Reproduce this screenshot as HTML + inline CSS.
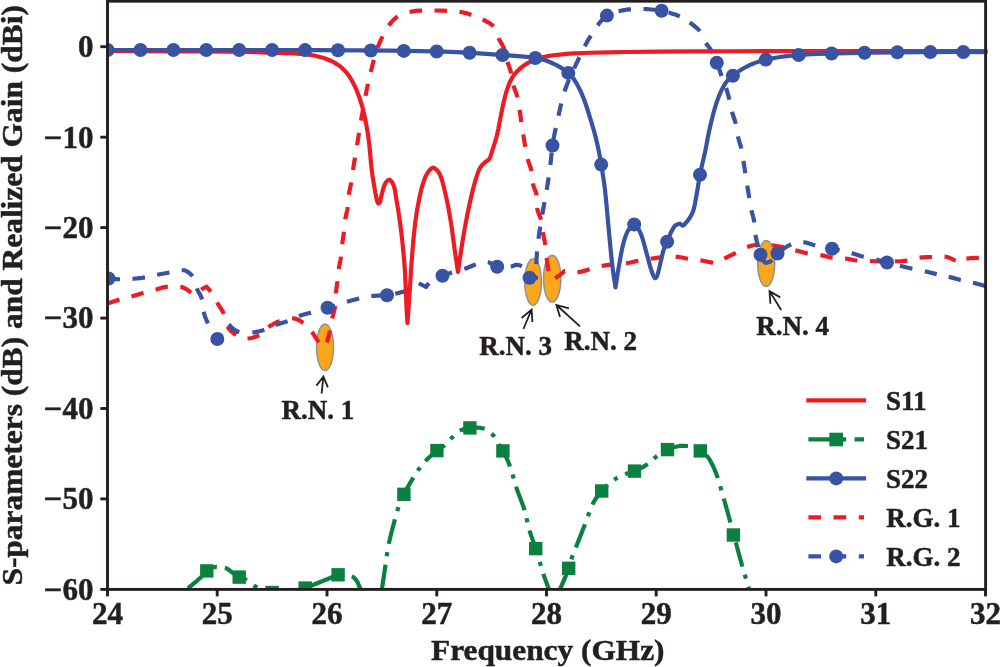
<!DOCTYPE html>
<html lang="en"><head><meta charset="utf-8"><title>S-parameters and Realized Gain</title>
<style>html,body{margin:0;padding:0;background:#fff;}body{width:1000px;height:667px;overflow:hidden;}svg{display:block;}</style>
</head><body>
<svg width="1000" height="667" viewBox="0 0 1000 667">
<rect width="1000" height="667" fill="#fff"/>
<defs><clipPath id="pc"><rect x="107.5" y="1.2" width="880.2" height="587.6"/></clipPath></defs>
<ellipse cx="325.05" cy="347.2" rx="8.5" ry="23.3" fill="#f9a61a" stroke="#8e9297" stroke-width="1.5"/>
<ellipse cx="533.1" cy="282.1" rx="8.3" ry="23.3" fill="#f9a61a" stroke="#8e9297" stroke-width="1.5"/>
<ellipse cx="552.2" cy="278.6" rx="8.7" ry="23.4" fill="#f9a61a" stroke="#8e9297" stroke-width="1.5"/>
<g clip-path="url(#pc)" fill="none" stroke-linejoin="round">
<path d="M107.50,303.60 L113.65,301.43 L119.87,299.49 L131.03,296.63 L133.92,295.79 L143.01,292.94 L147.36,291.77 L156.12,289.59 L161.93,287.78 L163.39,287.38 L164.85,287.06 L166.32,286.86 L167.31,286.80 L180.33,286.75 L181.29,286.87 L182.25,287.14 L183.20,287.54 L186.37,289.20 L187.62,290.03 L190.04,291.88 L191.31,292.66 L192.66,293.26 L194.06,293.80 L196.50,294.50 L197.49,293.28 L198.53,292.14 L199.64,291.07 L200.79,290.10 L202.42,288.93 L203.72,288.13 L205.08,287.40 L206.50,286.75 L208.23,288.58 L209.54,290.10 L210.76,291.67 L211.61,292.89 L213.15,295.44 L216.02,300.76 L217.26,302.93 L221.13,308.86 L222.65,311.43 L223.71,313.65 L224.37,315.53 L224.91,317.50 L226.09,322.52 L226.65,324.42 L227.34,326.18 L228.00,327.40 L228.83,328.58 L229.81,329.74 L230.89,330.85 L232.05,331.91 L233.68,333.24 L235.31,334.44 L237.38,335.83 L238.71,336.59 L239.63,337.03 L240.56,337.37 L242.46,337.85 L244.96,338.33 L246.96,338.50 L248.44,338.46 L250.45,338.21 L252.47,337.78 L254.95,337.05 L258.64,335.65 L259.48,335.27 L260.29,334.79 L261.06,334.23 L262.17,333.24 L265.73,329.45 L266.84,328.37 L267.61,327.72 L269.23,326.59 L271.77,324.97 L273.98,323.70 L275.78,322.78 L277.61,321.96 L279.46,321.26 L283.77,319.85 L286.75,319.01 L288.73,318.59 L290.68,318.32 L292.12,318.25 L293.55,318.34 L294.99,318.64 L296.44,319.10 L297.88,319.71 L299.30,320.41 L301.57,321.74 L304.07,323.38 L305.21,324.22 L306.30,325.19 L307.35,326.27 L308.69,327.82 L312.13,332.25 L313.56,334.29 L316.78,339.38 L318.19,341.45 L320.35,344.19 L323.00,347.20 L325.08,344.90 L326.22,343.27 L326.67,342.43 L327.04,341.55 L327.84,339.24 L328.61,336.31 L330.03,329.87 L332.27,318.06 L334.21,310.77 L334.74,308.34 L334.96,306.86 L335.18,304.39 L335.64,295.87 L335.92,292.38 L337.40,281.47 L338.62,270.02 L339.06,267.05 L340.53,259.68 L341.00,256.72 L341.33,253.74 L342.20,244.26 L343.93,232.37 L344.87,222.40 L345.28,218.93 L345.75,216.47 L347.25,210.12 L347.69,207.66 L348.05,204.19 L348.60,196.68 L349.02,193.22 L349.48,190.76 L350.69,185.38 L351.17,182.92 L351.70,179.46 L352.92,170.53 L354.48,160.64 L361.48,118.16 L363.03,109.29 L364.85,99.44 L366.86,89.12 L369.11,78.86 L372.31,65.73 L374.65,57.01 L376.70,50.33 L377.68,47.50 L378.56,45.17 L380.76,40.11 L383.85,33.81 L385.98,29.79 L387.01,28.07 L388.09,26.41 L389.25,24.83 L390.83,22.85 L393.25,20.16 L394.35,19.09 L395.49,18.10 L396.66,17.21 L397.86,16.44 L399.54,15.50 L401.34,14.62 L403.22,13.81 L404.67,13.27 L407.60,12.38 L411.48,11.60 L415.95,10.91 L419.96,10.54 L436.47,10.51 L441.47,10.62 L448.47,10.87 L453.48,11.16 L458.46,11.61 L460.91,11.94 L463.35,12.45 L465.78,13.11 L468.19,13.86 L472.95,15.42 L475.78,16.44 L478.12,17.37 L480.42,18.38 L485.88,21.07 L489.12,22.86 L490.40,23.70 L491.58,24.59 L492.61,25.53 L493.21,26.20 L493.98,27.29 L494.66,28.52 L495.65,30.80 L497.44,35.73 L498.43,38.10 L499.59,40.32 L502.17,44.67 L503.14,46.42 L504.00,48.21 L504.68,50.05 L505.49,52.90 L506.94,59.29 L507.56,61.72 L508.29,64.11 L510.36,70.29 L511.17,73.17 L511.79,76.10 L512.97,83.02 L513.61,85.94 L514.35,88.33 L516.61,94.46 L517.03,95.89 L517.38,97.33 L518.28,101.71 L519.04,106.13 L519.79,111.08 L522.01,127.00 L524.61,142.82 L525.74,149.24 L526.90,155.12 L528.12,160.46 L528.70,162.38 L530.58,167.59 L531.24,169.99 L531.50,171.45 L531.76,173.42 L532.52,181.43 L532.80,183.39 L533.00,184.36 L533.75,186.75 L535.82,191.95 L536.25,193.38 L536.46,194.34 L536.59,195.31 L536.76,197.78 L537.08,206.33 L537.23,208.30 L537.38,209.26 L537.72,210.70 L538.19,212.13 L540.40,217.81 L540.83,219.25 L541.04,220.22 L541.63,223.65 L542.82,232.09 L544.71,241.42 L545.21,244.37 L545.63,247.84 L546.55,257.31 L547.24,262.78 L547.91,267.23 L548.46,270.17 L549.15,273.08 L550.11,276.45 L551.20,279.80 L553.12,279.02 L554.51,278.36 L556.28,277.37 L558.01,276.29 L559.69,275.12 L561.32,273.85 L562.90,272.48 L564.40,271.00 L568.88,271.50 L575.38,272.05 L577.86,272.09 L579.82,271.90 L581.29,271.62 L583.24,271.13 L588.10,269.68 L591.49,268.76 L598.71,266.65 L600.65,266.18 L603.58,265.61 L608.53,264.81 L613.01,264.25 L616.00,263.99 L623.50,263.50 L626.97,263.15 L630.41,262.53 L637.74,260.84 L642.67,259.96 L649.59,258.88 L656.54,257.91 L660.52,257.46 L665.01,257.15 L671.52,256.86 L675.51,256.80 L678.00,256.94 L680.47,257.29 L687.88,258.69 L697.82,259.90 L701.28,260.41 L704.23,260.96 L712.08,262.59 L718.00,263.60 L719.92,261.96 L721.89,260.41 L723.51,259.26 L725.19,258.21 L728.25,256.54 L736.36,252.56 L741.61,249.50 L743.82,248.31 L746.08,247.34 L750.84,245.90 L753.81,245.21 L755.30,244.97 L756.79,244.83 L761.27,244.85 L766.78,245.07 L771.77,245.38 L775.25,245.80 L782.64,247.12 L787.04,248.07 L796.26,250.40 L804.45,252.77 L807.36,253.42 L810.32,253.86 L817.79,254.66 L820.76,255.09 L823.20,255.62 L828.55,257.04 L831.48,257.61 L834.95,257.92 L842.46,258.31 L845.44,258.54 L847.92,258.90 L854.81,260.22 L856.79,260.46 L858.78,260.59 L870.28,261.01 L878.28,261.42 L881.28,261.50 L890.78,261.39 L901.80,261.06 L907.27,260.72 L909.23,260.44 L911.16,259.94 L916.46,258.22 L917.92,257.88 L918.90,257.73 L922.36,257.45 L926.86,257.21 L938.92,256.71 L944.37,256.60 L945.82,256.73 L947.72,257.20 L949.60,257.91 L953.82,259.82 L955.23,260.40 L957.14,261.02 L960.50,262.00 L962.63,260.36 L963.94,259.50 L965.30,258.88 L966.22,258.63 L970.13,258.22 L977.89,257.81 L985.00,257.30" stroke="#ed1c24" stroke-width="4.2" stroke-dasharray="12.58,12.48,12.58,12.48,12.60,12.50,12.45,12.35,12.63,12.53,13.33,13.22,12.14,12.04,12.38,12.28,12.86,12.76,12.42,12.32,12.59,12.49,12.32,12.22,12.82,12.72,12.31,12.22,12.57,12.47,12.56,12.47,12.57,12.47,12.57,12.47,12.56,12.46,12.56,12.46,12.56,12.46,12.31,12.21,12.56,12.46,12.57,12.47,12.87,12.77,12.57,12.47,12.56,12.46,12.32,12.23,12.87,12.77,12.82,12.72,12.31,12.21,12.56,12.46,12.56,12.46,12.56,12.46,12.56,12.46,12.58,12.48,12.58,12.48,13.06,12.96,13.37,13.27,12.49,12.39,12.59,12.49,12.31,12.22,12.57,12.47,12.57,12.47,12.57,12.47,13.07,12.96,12.82,12.72,12.32,12.22,12.32,12.22,12.81,12.71,12.56,12.46,12.56,12.46,12.55,12.45,12.57,12.47,12.55,12.45,11.95,11.85,12.60,12.50,12.60,12.50" stroke-dashoffset="0.00"/>
</g>
<ellipse cx="766.2" cy="263.6" rx="8.5" ry="23.0" fill="#f9a61a" stroke="#8e9297" stroke-width="1.5"/>
<g clip-path="url(#pc)" fill="none" stroke-linejoin="round">
<path d="M107.50,278.50 L113.99,279.07 L116.99,279.21 L119.99,279.25 L123.49,279.19 L127.99,279.02 L133.48,278.73 L136.98,278.44 L141.96,277.87 L146.40,277.22 L148.84,276.70 L156.64,274.82 L169.93,272.38 L175.82,271.02 L178.28,270.55 L180.75,270.28 L184.75,270.25 L186.22,271.02 L187.62,271.85 L188.93,272.75 L190.14,273.72 L190.88,274.39 L191.87,275.44 L192.45,276.17 L192.95,276.92 L193.59,278.12 L194.44,280.40 L195.97,285.92 L196.79,288.34 L197.85,290.63 L200.54,295.57 L201.17,296.93 L201.69,298.32 L202.05,299.73 L202.38,301.68 L203.17,308.73 L203.54,311.21 L204.25,314.11 L205.39,317.46 L206.56,320.27 L208.20,323.94 L209.28,326.18 L210.68,328.83 L212.18,331.44 L213.79,334.01 L215.50,336.53 L217.30,339.00 L228.50,324.00 L229.90,325.69 L231.39,327.24 L232.95,328.62 L234.17,329.53 L235.85,330.56 L237.14,331.18 L238.46,331.66 L240.79,332.29 L242.79,332.70 L244.32,332.91 L245.84,333.00 L247.83,332.94 L250.34,332.73 L253.82,332.33 L256.29,331.92 L259.25,331.27 L263.13,330.25 L265.49,329.51 L267.81,328.58 L273.29,326.02 L275.60,325.06 L278.44,324.08 L285.15,322.00 L287.98,321.01 L290.74,319.81 L296.62,316.96 L298.46,316.20 L299.87,315.71 L302.73,314.84 L310.50,312.78 L315.80,311.25 L328.76,307.37 L343.11,302.88 L352.27,300.31 L365.42,297.01 L368.86,296.30 L370.83,296.04 L373.31,295.86 L383.85,295.45 L387.83,295.17 L389.82,294.89 L391.79,294.51 L399.14,292.83 L402.56,291.89 L405.43,290.97 L408.19,289.92 L409.97,289.11 L412.16,287.93 L414.29,286.60 L416.37,285.14 L418.80,283.25 L426.00,287.00 L427.18,285.31 L428.13,284.11 L429.15,283.04 L430.24,282.11 L431.81,280.98 L433.95,279.68 L436.21,278.50 L438.54,277.41 L443.21,275.47 L446.52,274.30 L453.24,272.22 L461.45,269.89 L464.78,268.82 L467.58,267.74 L474.07,265.03 L478.31,263.41 L480.23,262.83 L482.20,262.57 L485.24,262.32 L487.70,262.25 L488.64,262.39 L489.56,262.70 L490.46,263.13 L494.48,265.69 L495.84,266.37 L496.78,266.66 L497.25,266.75 L501.73,267.22 L503.75,267.30 L505.25,267.28 L509.27,266.94 L510.74,266.75 L511.71,266.53 L514.58,265.32 L515.99,264.87 L516.47,264.81 L517.43,264.84 L518.97,265.12 L521.00,265.84 L522.81,266.75 L524.20,267.74 L525.17,268.64 L525.78,269.34 L526.66,270.50 L527.20,271.36 L528.16,273.26 L528.94,275.38 L529.50,277.70 L536.00,278.20 L536.21,267.19 L536.57,258.22 L537.22,249.77 L538.26,240.34 L539.42,231.92 L540.90,222.52 L542.43,213.62 L546.67,189.89 L548.84,176.53 L550.33,165.62 L551.98,149.68 L552.47,145.72 L552.98,142.26 L553.94,136.84 L555.24,130.46 L559.89,109.42 L561.47,102.58 L562.97,96.77 L564.35,91.98 L565.61,88.21 L567.04,84.47 L568.79,80.31 L572.42,72.05 L575.12,66.13 L583.61,48.55 L585.41,44.97 L587.06,41.89 L588.55,39.29 L590.38,36.29 L594.11,30.35 L595.78,27.84 L597.24,25.83 L600.39,21.81 L602.06,19.83 L603.46,18.34 L604.91,17.00 L606.05,16.11 L607.24,15.36 L608.93,14.47 L610.75,13.64 L613.14,12.73 L615.59,11.94 L618.04,11.31 L623.91,10.10 L626.40,9.70 L628.89,9.42 L630.89,9.29 L636.38,9.10 L643.89,9.00 L646.39,9.08 L648.89,9.26 L656.86,10.10 L661.31,10.77 L665.22,11.62 L672.47,13.65 L675.34,14.58 L677.69,15.45 L679.96,16.41 L681.73,17.29 L683.47,18.29 L685.61,19.64 L691.35,23.70 L695.02,26.49 L696.56,27.81 L697.66,28.84 L698.68,29.91 L699.60,31.01 L700.69,32.58 L701.65,34.30 L704.44,40.30 L705.62,42.53 L707.26,45.03 L710.28,49.07 L711.42,50.71 L712.45,52.41 L713.80,55.06 L715.42,58.74 L717.44,63.87 L721.49,75.71 L724.89,84.59 L726.20,88.37 L727.79,93.64 L729.21,98.96 L729.89,101.88 L731.40,109.24 L732.11,112.15 L732.82,114.55 L734.92,120.72 L735.60,123.12 L736.31,126.54 L737.42,133.47 L738.09,136.90 L738.71,139.32 L740.83,146.54 L741.30,148.48 L741.96,151.91 L744.10,165.26 L746.91,183.56 L750.04,202.83 L751.65,211.17 L753.60,218.44 L754.20,221.37 L754.61,224.83 L755.33,233.33 L755.66,235.80 L756.11,238.25 L756.78,241.18 L758.26,247.01 L759.33,250.87 L760.50,254.70 L760.69,255.80 L760.99,256.83 L761.58,258.25 L762.56,259.91 L763.43,261.01 L764.63,262.13 L765.54,262.65 L765.99,262.78 L766.90,262.74 L768.37,262.27 L769.78,261.61 L770.58,261.15 L771.33,260.58 L772.38,259.57 L773.37,258.40 L776.27,254.72 L776.97,253.99 L778.08,253.00 L781.19,250.47 L784.06,248.36 L786.61,246.72 L789.22,245.28 L792.87,243.67 L794.31,243.17 L795.28,242.92 L797.73,242.59 L800.24,242.35 L802.74,242.25 L804.21,242.31 L805.67,242.52 L807.61,242.99 L812.93,244.69 L814.87,245.22 L819.27,246.16 L831.54,248.60 L840.83,250.60 L847.17,252.05 L852.98,253.54 L860.62,255.92 L863.51,256.74 L866.42,257.43 L876.20,259.55 L887.30,262.58 L899.41,265.66 L911.09,268.43 L924.80,271.26 L936.96,274.19 L948.20,276.62 L951.11,277.36 L957.84,279.31 L960.74,280.09 L963.66,280.76 L973.45,282.81 L983.61,285.46 L987.50,286.40" stroke="#3953a4" stroke-width="4.2" stroke-dasharray="12.56,12.46,12.56,12.46,12.57,12.47,12.94,12.84,12.38,12.28,12.55,12.45,12.55,12.45,13.17,13.07,12.34,12.24,12.58,12.48,12.58,12.48,12.58,12.48,12.58,12.48,12.08,11.98,13.11,13.01,12.91,12.81,12.85,12.75,12.34,12.24,12.16,12.06,11.68,11.58,11.68,11.58,12.77,12.67,12.32,12.22,12.60,12.50,12.58,12.48,12.56,12.46,12.56,12.46,12.56,12.46,12.56,12.46,12.31,12.22,12.31,12.21,13.12,13.02,12.57,12.47,12.82,12.71,11.82,11.73,13.35,13.24,12.06,11.97,12.81,12.71,12.31,12.21,12.81,12.71,12.56,12.46,12.56,12.46,12.56,12.46,12.56,12.46,12.53,12.43,12.53,12.43,12.53,12.43,12.44,12.34,12.44,12.34,12.80,12.70,12.30,12.20,12.80,12.70,12.30,12.20,12.55,12.45,12.60,12.50,12.60,12.50" stroke-dashoffset="0.00"/>
<circle cx="108.5" cy="278.5" r="7" fill="#3953a4" stroke="none"/>
<circle cx="217.3" cy="339.0" r="7" fill="#3953a4" stroke="none"/>
<circle cx="327.5" cy="307.8" r="7" fill="#3953a4" stroke="none"/>
<circle cx="387.0" cy="295.2" r="7" fill="#3953a4" stroke="none"/>
<circle cx="442.5" cy="275.8" r="7" fill="#3953a4" stroke="none"/>
<circle cx="497.2" cy="266.8" r="7" fill="#3953a4" stroke="none"/>
<circle cx="529.5" cy="277.7" r="7" fill="#3953a4" stroke="none"/>
<circle cx="552.5" cy="145.5" r="7" fill="#3953a4" stroke="none"/>
<circle cx="606.9" cy="15.6" r="7" fill="#3953a4" stroke="none"/>
<circle cx="661.6" cy="10.7" r="7" fill="#3953a4" stroke="none"/>
<circle cx="716.8" cy="62.7" r="7" fill="#3953a4" stroke="none"/>
<circle cx="760.5" cy="254.7" r="7" fill="#3953a4" stroke="none"/>
<circle cx="777.5" cy="253.5" r="7" fill="#3953a4" stroke="none"/>
<circle cx="832.0" cy="248.7" r="7" fill="#3953a4" stroke="none"/>
<circle cx="887.0" cy="262.5" r="7" fill="#3953a4" stroke="none"/>
<path d="M107.50,50.90 L148.02,51.09 L201.05,51.45 L227.06,51.69 L248.57,51.98 L257.57,52.17 L268.07,52.53 L293.59,53.52 L303.07,54.05 L306.04,54.29 L308.52,54.59 L311.00,54.98 L313.97,55.56 L316.93,56.24 L319.85,57.00 L323.68,58.10 L326.50,59.00 L328.37,59.71 L330.69,60.73 L332.97,61.86 L335.18,63.08 L337.29,64.36 L338.91,65.47 L340.49,66.71 L342.02,68.04 L343.49,69.44 L345.22,71.23 L346.53,72.74 L348.09,74.72 L349.26,76.36 L350.59,78.45 L352.10,81.03 L353.52,83.69 L354.87,86.40 L356.12,89.15 L357.27,91.91 L358.34,94.70 L359.69,98.46 L360.79,101.80 L361.82,105.16 L362.76,108.55 L363.96,113.39 L365.44,120.23 L366.67,126.62 L367.68,132.56 L368.55,138.50 L369.22,143.95 L369.78,149.42 L371.18,164.88 L371.73,169.85 L372.32,174.31 L373.62,182.72 L375.40,193.08 L376.83,199.99 L377.22,201.44 L377.57,202.33 L378.14,203.29 L378.50,203.58 L378.87,203.49 L379.26,203.10 L379.78,202.24 L380.12,201.37 L380.40,200.43 L381.27,196.38 L383.06,189.42 L383.62,187.47 L384.10,186.06 L384.84,184.29 L385.51,183.05 L386.50,181.65 L387.67,180.41 L388.45,179.89 L388.81,179.77 L389.16,179.76 L389.88,180.04 L390.26,180.30 L391.02,181.01 L392.10,182.40 L392.73,183.41 L393.24,184.39 L393.90,186.14 L394.42,187.97 L394.86,189.90 L395.31,192.41 L396.34,199.04 L398.16,209.90 L399.50,218.81 L400.69,227.73 L401.68,235.67 L402.45,242.63 L403.30,251.10 L404.34,262.56 L405.00,272.04 L405.45,281.03 L406.43,305.52 L406.84,313.02 L407.50,323.00 L409.40,295.54 L411.02,270.07 L411.94,257.60 L412.82,246.62 L413.62,237.64 L414.48,229.18 L415.35,221.73 L416.32,214.80 L417.49,207.88 L419.00,200.02 L420.57,192.65 L421.77,187.78 L423.02,183.47 L424.50,179.20 L425.90,175.90 L426.82,174.12 L427.58,172.87 L429.08,170.79 L430.19,169.47 L430.99,168.69 L431.79,168.10 L432.58,167.75 L432.97,167.70 L433.35,167.73 L434.17,168.00 L435.47,168.83 L436.73,169.98 L438.19,171.68 L439.19,173.24 L440.04,174.87 L440.79,176.63 L441.64,178.97 L442.39,181.42 L443.20,184.46 L446.03,196.38 L447.70,204.20 L449.35,213.07 L450.60,220.49 L451.77,227.90 L454.89,251.22 L458.00,272.00 L460.17,256.65 L462.62,240.84 L464.81,228.02 L467.32,214.76 L469.67,203.50 L472.49,191.31 L474.54,183.58 L476.53,176.79 L477.47,173.88 L478.34,171.53 L479.12,169.73 L479.99,168.01 L480.78,166.79 L482.39,164.84 L484.55,162.70 L485.34,162.07 L487.94,160.35 L488.66,159.72 L489.20,159.00 L489.66,158.21 L490.07,157.35 L490.63,155.96 L494.95,142.41 L496.07,138.57 L497.07,134.70 L498.45,128.36 L501.26,113.61 L503.64,102.33 L505.16,96.01 L506.39,91.71 L507.65,87.87 L509.09,84.07 L510.50,80.86 L511.39,79.11 L512.34,77.42 L514.02,74.96 L516.30,72.22 L519.13,69.35 L520.22,68.35 L521.75,67.08 L524.61,65.00 L528.01,62.91 L531.57,61.02 L533.87,60.03 L537.15,58.90 L540.51,57.88 L543.92,56.98 L546.87,56.34 L549.32,55.90 L557.72,54.79 L566.20,53.96 L574.20,53.44 L590.68,52.77 L608.18,52.28 L624.18,52.01 L660.18,51.66 L695.68,51.42 L735.19,51.25 L837.69,51.01 L987.70,51.00" stroke="#ed1c24" stroke-width="4.2"/>
<path d="M150.00,624.00 L156.07,618.00 L162.58,611.73 L169.51,605.18 L176.50,598.71 L188.78,587.61 L197.29,580.53 L200.66,577.54 L203.48,574.71 L206.75,570.90 L215.50,566.80 L218.65,566.92 L221.65,567.24 L224.96,567.79 L226.30,568.25 L227.16,568.69 L228.01,569.23 L232.14,572.41 L236.70,575.59 L238.39,576.66 L239.26,577.13 L240.62,577.73 L245.37,579.47 L246.70,580.11 L247.55,580.61 L249.17,581.76 L252.70,584.65 L254.32,585.86 L257.73,588.00 L259.94,589.29 L262.20,590.38 L264.05,591.01 L267.94,592.00 L269.44,592.28 L270.95,592.46 L273.43,592.49 L276.93,592.34 L280.43,592.07 L284.44,591.65 L290.43,590.95 L293.40,590.53 L297.35,589.83 L301.28,589.01 L305.20,588.10 L338.10,574.80 L339.62,574.54 L341.13,574.39 L345.10,574.30 L346.09,574.37 L347.10,574.54 L349.09,575.11 L350.97,575.85 L352.26,576.46 L353.50,577.30 L354.67,578.35 L355.73,579.50 L356.88,581.07 L357.60,582.35 L358.44,584.19 L360.50,589.37 L361.72,592.67 L362.85,596.00 L363.83,599.37 L365.28,605.18 L366.46,610.56 L367.36,615.51 L368.00,620.00" stroke="#0b8140" stroke-width="4.2" stroke-dasharray="25.20,8.40,4.20,8.40,25.20,8.40,4.20,8.40,24.43,8.14,4.07,8.14,25.37,8.46,4.23,8.46,25.37,8.46,4.23,8.46,24.00,8.00,4.00,8.00,25.20,8.40,4.20,8.40,25.20,8.40,4.20,8.40,25.20,8.40,4.20,8.40" stroke-dashoffset="40.22"/>
<path d="M375.50,640.00 L377.98,619.13 L381.03,595.82 L382.61,584.43 L385.36,566.13 L386.86,554.72 L388.01,547.81 L389.29,541.44 L390.77,535.11 L392.39,528.81 L396.64,512.84 L397.66,509.50 L398.83,506.21 L400.30,502.47 L401.88,498.78 L404.41,493.35 L406.95,488.48 L410.21,482.84 L415.94,473.42 L418.14,470.08 L420.52,466.87 L423.39,463.38 L426.08,460.44 L428.20,458.32 L430.38,456.25 L434.92,452.29 L437.65,450.11 L442.62,446.70 L443.81,445.80 L444.94,444.84 L446.72,443.10 L450.49,439.06 L452.63,436.93 L455.50,433.94 L456.61,432.88 L457.75,431.92 L458.95,431.12 L459.77,430.69 L461.54,429.94 L463.43,429.24 L465.40,428.64 L466.90,428.28 L468.40,428.01 L469.89,427.85 L473.88,427.66 L477.39,427.60 L479.42,427.75 L481.45,428.06 L484.33,428.71 L485.67,429.15 L486.55,429.58 L487.43,430.09 L489.12,431.30 L490.71,432.69 L492.16,434.12 L493.44,435.56 L494.30,436.74 L495.35,438.43 L498.35,443.77 L501.39,448.37 L502.70,450.50 L504.58,454.01 L506.15,457.15 L508.41,462.19 L510.21,466.85 L511.58,471.13 L515.29,484.13 L516.47,487.95 L518.15,492.66 L521.93,502.48 L523.42,506.73 L524.16,509.11 L524.95,512.00 L528.73,527.56 L530.08,532.37 L531.35,536.16 L534.41,544.64 L535.70,548.43 L537.45,554.17 L542.24,570.50 L543.44,574.31 L544.77,578.08 L548.47,587.92 L551.28,595.94 L554.00,604.00 L560.79,587.31 L565.82,575.83 L567.71,571.20 L569.20,566.97 L571.41,559.27 L572.50,555.94 L573.40,553.61 L575.88,547.59 L582.64,530.35 L585.66,522.40 L590.66,508.73 L591.77,505.95 L592.84,503.73 L594.26,501.14 L595.57,499.01 L597.26,496.53 L598.78,494.50 L600.06,492.93 L603.42,489.03 L605.17,487.16 L607.73,484.70 L610.40,482.44 L613.58,480.09 L616.46,478.24 L619.54,476.58 L623.22,474.92 L626.49,473.66 L631.77,472.04 L634.12,471.23 L638.25,469.44 L642.30,467.37 L645.77,465.34 L647.84,463.98 L649.04,463.12 L650.56,461.84 L653.84,458.71 L655.34,457.37 L657.71,455.55 L660.59,453.53 L663.55,451.66 L666.18,450.19 L667.99,449.37 L671.27,448.11 L673.66,447.32 L675.60,446.80 L678.53,446.20 L680.52,445.89 L681.51,445.81 L683.52,445.81 L688.99,446.06 L689.95,446.21 L691.39,446.57 L692.81,447.07 L694.22,447.67 L696.98,449.08 L702.23,452.10 L703.50,452.96 L704.73,453.88 L706.55,455.54 L708.11,457.39 L709.77,459.90 L710.79,461.68 L711.97,463.94 L714.11,468.44 L715.83,472.62 L717.70,477.81 L718.75,481.14 L723.21,496.52 L727.17,510.48 L730.27,522.08 L732.45,531.34 L733.31,534.73 L734.02,537.12 L735.57,541.88 L736.69,545.72 L742.45,566.97 L746.85,581.84 L756.00,612.00" stroke="#0b8140" stroke-width="4.2" stroke-dasharray="25.20,8.40,4.20,8.40,25.20,8.40,4.20,8.40,25.20,8.40,4.20,8.40,25.39,8.46,4.23,8.46,24.57,8.19,4.09,8.19,25.14,8.38,4.19,8.38,25.50,8.50,4.25,8.50,25.11,8.37,4.19,8.37,25.11,8.37,4.18,8.37,24.83,8.28,4.14,8.28,25.25,8.42,4.21,8.42,25.25,8.42,4.21,8.42,25.12,8.37,4.19,8.37,24.92,8.31,4.15,8.31,24.86,8.29,4.14,8.29,24.95,8.32,4.16,8.32,25.66,8.55,4.28,8.55,24.83,8.28,4.14,8.28,25.10,8.37,4.18,8.37,25.20,8.40,4.20,8.40,25.20,8.40,4.20,8.40" stroke-dashoffset="41.55"/>
<rect x="200.1" y="564.2" width="13.4" height="13.4" fill="#0b8140" stroke="none"/>
<rect x="232.5" y="570.4" width="13.4" height="13.4" fill="#0b8140" stroke="none"/>
<rect x="265.4" y="585.8" width="13.4" height="13.4" fill="#0b8140" stroke="none"/>
<rect x="298.5" y="581.4" width="13.4" height="13.4" fill="#0b8140" stroke="none"/>
<rect x="331.4" y="568.1" width="13.4" height="13.4" fill="#0b8140" stroke="none"/>
<rect x="397.2" y="487.6" width="13.4" height="13.4" fill="#0b8140" stroke="none"/>
<rect x="430.2" y="443.9" width="13.4" height="13.4" fill="#0b8140" stroke="none"/>
<rect x="463.2" y="421.2" width="13.4" height="13.4" fill="#0b8140" stroke="none"/>
<rect x="496.2" y="444.2" width="13.4" height="13.4" fill="#0b8140" stroke="none"/>
<rect x="529.0" y="541.9" width="13.4" height="13.4" fill="#0b8140" stroke="none"/>
<rect x="562.0" y="561.6" width="13.4" height="13.4" fill="#0b8140" stroke="none"/>
<rect x="595.0" y="484.3" width="13.4" height="13.4" fill="#0b8140" stroke="none"/>
<rect x="627.8" y="464.4" width="13.4" height="13.4" fill="#0b8140" stroke="none"/>
<rect x="660.8" y="442.9" width="13.4" height="13.4" fill="#0b8140" stroke="none"/>
<rect x="693.6" y="444.2" width="13.4" height="13.4" fill="#0b8140" stroke="none"/>
<rect x="726.7" y="528.3" width="13.4" height="13.4" fill="#0b8140" stroke="none"/>
<path d="M107.50,50.00 L275.60,50.00 L313.12,50.11 L358.15,50.41 L390.67,50.71 L419.18,51.14 L443.69,51.69 L462.19,52.40 L471.68,52.86 L479.17,53.30 L518.25,56.13 L523.78,56.59 L528.24,57.03 L532.16,57.49 L536.00,58.04 L538.40,58.48 L541.33,59.18 L544.29,60.05 L547.26,61.07 L550.21,62.22 L553.59,63.72 L557.80,65.86 L561.77,68.18 L565.43,70.65 L568.36,72.92 L570.03,74.44 L571.95,76.58 L573.76,79.00 L575.74,82.06 L578.06,86.17 L580.54,91.11 L582.34,95.18 L584.17,99.82 L586.02,105.04 L588.21,111.77 L591.47,122.29 L593.98,130.95 L595.52,136.76 L596.84,142.11 L598.04,147.47 L599.14,152.86 L600.41,159.75 L601.67,167.15 L603.02,175.55 L604.10,182.98 L605.05,190.42 L606.01,199.37 L608.49,226.78 L610.70,250.20 L611.77,260.65 L612.57,267.60 L613.29,273.06 L614.24,279.49 L615.50,287.40 L617.55,274.05 L620.89,254.79 L621.65,250.85 L622.50,246.94 L623.33,243.57 L624.26,240.21 L625.19,237.26 L626.25,234.35 L627.28,232.06 L628.45,229.97 L629.95,227.90 L631.53,226.18 L632.78,225.15 L633.57,224.70 L633.95,224.56 L634.64,224.52 L635.31,224.78 L635.98,225.30 L636.97,226.46 L637.91,227.93 L639.05,230.05 L640.40,232.87 L641.34,235.11 L642.32,237.91 L643.48,241.77 L650.17,266.54 L652.00,272.27 L653.08,275.10 L653.51,275.98 L654.31,277.37 L654.65,277.83 L654.99,278.14 L655.33,278.18 L655.70,277.96 L656.08,277.57 L656.73,276.62 L657.32,275.33 L657.91,273.42 L659.74,266.05 L662.14,255.27 L662.89,252.37 L663.74,249.53 L664.81,246.74 L667.71,240.34 L670.36,233.80 L671.18,231.98 L672.08,230.22 L673.65,227.58 L674.57,226.29 L675.59,225.27 L676.81,224.59 L678.29,224.03 L679.29,223.83 L679.76,223.80 L680.21,223.90 L680.65,224.16 L681.94,225.25 L682.36,225.51 L682.76,225.60 L683.16,225.53 L683.55,225.33 L683.94,225.04 L684.69,224.26 L685.77,222.96 L687.45,221.09 L688.94,219.08 L690.27,216.97 L691.51,214.76 L692.59,212.47 L693.30,210.62 L694.22,207.31 L695.04,203.40 L697.30,190.53 L699.28,178.69 L700.38,172.79 L701.54,167.41 L705.12,151.81 L706.00,147.40 L707.98,136.57 L710.21,126.29 L712.42,116.99 L714.67,108.77 L715.83,104.96 L716.92,101.67 L718.08,98.40 L719.36,95.11 L721.20,90.90 L723.03,87.29 L725.05,83.89 L726.15,82.30 L727.06,81.14 L728.06,80.03 L729.51,78.59 L732.55,75.96 L736.91,72.63 L741.11,69.80 L743.71,68.22 L746.35,66.77 L748.57,65.66 L751.27,64.45 L754.50,63.11 L757.81,61.88 L760.69,60.94 L763.59,60.12 L766.01,59.55 L770.87,58.59 L775.79,57.73 L780.25,57.03 L784.73,56.41 L789.22,55.88 L793.72,55.42 L798.21,55.06 L811.67,54.26 L827.68,53.63 L848.17,53.07 L873.18,52.61 L894.68,52.33 L923.19,52.13 L958.69,52.00 L987.70,52.05" stroke="#3953a4" stroke-width="4.2"/>
<circle cx="107.6" cy="50.0" r="7" fill="#3953a4" stroke="none"/>
<circle cx="140.5" cy="50.0" r="7" fill="#3953a4" stroke="none"/>
<circle cx="173.4" cy="50.0" r="7" fill="#3953a4" stroke="none"/>
<circle cx="206.3" cy="50.0" r="7" fill="#3953a4" stroke="none"/>
<circle cx="239.2" cy="50.0" r="7" fill="#3953a4" stroke="none"/>
<circle cx="272.1" cy="50.0" r="7" fill="#3953a4" stroke="none"/>
<circle cx="305.1" cy="50.1" r="7" fill="#3953a4" stroke="none"/>
<circle cx="338.0" cy="50.3" r="7" fill="#3953a4" stroke="none"/>
<circle cx="370.9" cy="50.5" r="7" fill="#3953a4" stroke="none"/>
<circle cx="403.8" cy="50.9" r="7" fill="#3953a4" stroke="none"/>
<circle cx="436.7" cy="51.5" r="7" fill="#3953a4" stroke="none"/>
<circle cx="469.6" cy="52.8" r="7" fill="#3953a4" stroke="none"/>
<circle cx="502.5" cy="55.0" r="7" fill="#3953a4" stroke="none"/>
<circle cx="535.4" cy="58.0" r="7" fill="#3953a4" stroke="none"/>
<circle cx="568.3" cy="72.9" r="7" fill="#3953a4" stroke="none"/>
<circle cx="601.2" cy="164.6" r="7" fill="#3953a4" stroke="none"/>
<circle cx="634.2" cy="224.5" r="7" fill="#3953a4" stroke="none"/>
<circle cx="667.1" cy="241.8" r="7" fill="#3953a4" stroke="none"/>
<circle cx="700.0" cy="174.8" r="7" fill="#3953a4" stroke="none"/>
<circle cx="732.9" cy="75.7" r="7" fill="#3953a4" stroke="none"/>
<circle cx="765.8" cy="59.6" r="7" fill="#3953a4" stroke="none"/>
<circle cx="798.7" cy="55.0" r="7" fill="#3953a4" stroke="none"/>
<circle cx="831.6" cy="53.5" r="7" fill="#3953a4" stroke="none"/>
<circle cx="864.5" cy="52.7" r="7" fill="#3953a4" stroke="none"/>
<circle cx="897.4" cy="52.3" r="7" fill="#3953a4" stroke="none"/>
<circle cx="930.3" cy="52.1" r="7" fill="#3953a4" stroke="none"/>
<circle cx="963.3" cy="52.0" r="7" fill="#3953a4" stroke="none"/>
</g>
<g stroke="#231f20" stroke-width="2.9" fill="none">
<rect x="107.5" y="1.2" width="878.1" height="588.2"/>
<line x1="107.5" y1="589.4" x2="107.5" y2="596.4"/>
<line x1="217.2" y1="589.4" x2="217.2" y2="596.4"/>
<line x1="327.0" y1="589.4" x2="327.0" y2="596.4"/>
<line x1="436.8" y1="589.4" x2="436.8" y2="596.4"/>
<line x1="546.5" y1="589.4" x2="546.5" y2="596.4"/>
<line x1="656.2" y1="589.4" x2="656.2" y2="596.4"/>
<line x1="766.0" y1="589.4" x2="766.0" y2="596.4"/>
<line x1="875.8" y1="589.4" x2="875.8" y2="596.4"/>
<line x1="985.5" y1="589.4" x2="985.5" y2="596.4"/>
<line x1="100.3" y1="46.7" x2="107.5" y2="46.7"/>
<line x1="100.3" y1="137.2" x2="107.5" y2="137.2"/>
<line x1="100.3" y1="227.6" x2="107.5" y2="227.6"/>
<line x1="100.3" y1="318.1" x2="107.5" y2="318.1"/>
<line x1="100.3" y1="408.5" x2="107.5" y2="408.5"/>
<line x1="100.3" y1="498.9" x2="107.5" y2="498.9"/>
<line x1="100.3" y1="589.4" x2="107.5" y2="589.4"/>
</g>
<g font-family="'Liberation Serif', 'Times New Roman', serif" font-weight="bold" fill="#231f20" stroke="#231f20" stroke-width="0.5" stroke-linejoin="round">
<text x="107.5" y="624" font-size="31" text-anchor="middle">24</text>
<text x="217.2" y="624" font-size="31" text-anchor="middle">25</text>
<text x="327.0" y="624" font-size="31" text-anchor="middle">26</text>
<text x="436.8" y="624" font-size="31" text-anchor="middle">27</text>
<text x="546.5" y="624" font-size="31" text-anchor="middle">28</text>
<text x="656.2" y="624" font-size="31" text-anchor="middle">29</text>
<text x="766.0" y="624" font-size="31" text-anchor="middle">30</text>
<text x="875.8" y="624" font-size="31" text-anchor="middle">31</text>
<text x="985.5" y="624" font-size="31" text-anchor="middle">32</text>
<text x="93.5" y="57.0" font-size="31" text-anchor="end">0</text>
<text x="93.5" y="147.5" font-size="31" text-anchor="end">10</text>
<text x="43.6" y="147.5" font-size="31" textLength="18.8" lengthAdjust="spacingAndGlyphs">−</text>
<text x="93.5" y="237.9" font-size="31" text-anchor="end">20</text>
<text x="43.6" y="237.9" font-size="31" textLength="18.8" lengthAdjust="spacingAndGlyphs">−</text>
<text x="93.5" y="328.4" font-size="31" text-anchor="end">30</text>
<text x="43.6" y="328.4" font-size="31" textLength="18.8" lengthAdjust="spacingAndGlyphs">−</text>
<text x="93.5" y="418.8" font-size="31" text-anchor="end">40</text>
<text x="43.6" y="418.8" font-size="31" textLength="18.8" lengthAdjust="spacingAndGlyphs">−</text>
<text x="93.5" y="509.2" font-size="31" text-anchor="end">50</text>
<text x="43.6" y="509.2" font-size="31" textLength="18.8" lengthAdjust="spacingAndGlyphs">−</text>
<text x="93.5" y="599.7" font-size="31" text-anchor="end">60</text>
<text x="43.6" y="599.7" font-size="31" textLength="18.8" lengthAdjust="spacingAndGlyphs">−</text>
<text x="431" y="660" font-size="30" textLength="233.5" lengthAdjust="spacingAndGlyphs">Frequency (GHz)</text>
<text transform="translate(22.3,585.6) rotate(-90)" font-size="29.5" textLength="580.5" lengthAdjust="spacingAndGlyphs">S-parameters (dB) and Realized Gain (dBi)</text>
<text x="281.5" y="419.4" font-size="27">R.N. 1</text>
<text x="479.2" y="355" font-size="27">R.N. 3</text>
<text x="564.2" y="350.4" font-size="27">R.N. 2</text>
<text x="756.3" y="335.1" font-size="27">R.N. 4</text>
<text x="886.1" y="410.0" font-size="27">S11</text>
<text x="886.1" y="449.0" font-size="27">S21</text>
<text x="886.1" y="488.0" font-size="27">S22</text>
<text x="886.3" y="527.0" font-size="27">R.G. 1</text>
<text x="886.3" y="566.0" font-size="27">R.G. 2</text>
</g>
<g fill="none" stroke-width="4.2">
<line x1="808.4" y1="400.4" x2="864" y2="400.4" stroke="#ed1c24" stroke-linecap="square"/>
<line x1="808.4" y1="439.4" x2="864" y2="439.4" stroke="#0b8140" stroke-dasharray="25.2,8.4,4.2,8.4"/>
<line x1="808.4" y1="478.4" x2="864" y2="478.4" stroke="#3953a4" stroke-linecap="square"/>
<line x1="808.4" y1="517.4" x2="864" y2="517.4" stroke="#ed1c24" stroke-dasharray="12.6,12.6"/>
<line x1="808.4" y1="556.4" x2="864" y2="556.4" stroke="#3953a4" stroke-dasharray="12.6,12.6"/>
</g>
<rect x="829.3" y="432.7" width="13.8" height="13.6" fill="#0b8140"/>
<circle cx="836.2" cy="478.4" r="7" fill="#3953a4"/>
<circle cx="836.2" cy="556.4" r="7" fill="#3953a4"/>
<path d="M321.6,393.7 L323.4,376.6 M316.4,385.6 L323.4,376.6 L327.9,387.4" fill="none" stroke="#231f20" stroke-width="1.8" stroke-linejoin="miter"/>
<path d="M523.4,329 L531.6,309.6 M521.6,318 L531.6,309.6 L532.4,322" fill="none" stroke="#231f20" stroke-width="1.8" stroke-linejoin="miter"/>
<path d="M580,326.4 L556.4,305 M569,308.4 L556.4,305 L560,317" fill="none" stroke="#231f20" stroke-width="1.8" stroke-linejoin="miter"/>
<path d="M781.2,310 L769.5,291.1 M770.4,303.7 L769.5,291.1 L780.3,297.4" fill="none" stroke="#231f20" stroke-width="1.8" stroke-linejoin="miter"/>
</svg>
</body></html>
